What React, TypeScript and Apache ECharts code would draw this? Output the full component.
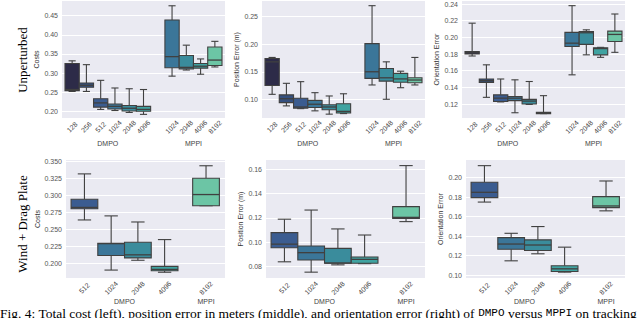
import React, { useEffect, useRef } from 'react';
import * as echarts from 'echarts';

// ---------- categories ----------
const DMPO_TOP = ['128', '256', '512', '1024', '2048', '4096'];
const MPPI_TOP = ['1024', '2048', '4096', '8192'];
const DMPO_BOT = ['512', '1024', '2048', '4096'];
const MPPI_BOT = ['8192'];
const GROUPS = ['DMPO', 'MPPI'];

// ---------- box stats: [min, Q1, median, Q3, max] ----------
// Unperturbed — cost
const costTopDMPO = [
  [0.252, 0.254, 0.257, 0.325, 0.332],
  [0.252, 0.263, 0.268, 0.274, 0.322],
  [0.205, 0.211, 0.222, 0.233, 0.281],
  [0.202, 0.206, 0.213, 0.219, 0.261],
  [0.197, 0.201, 0.208, 0.215, 0.259],
  [0.192, 0.200, 0.205, 0.213, 0.257],
];
const costTopMPPI = [
  [0.292, 0.314, 0.343, 0.439, 0.476],
  [0.308, 0.311, 0.315, 0.346, 0.373],
  [0.297, 0.313, 0.318, 0.325, 0.337],
  [0.316, 0.320, 0.334, 0.368, 0.383],
];
// Unperturbed — position error
const posTopDMPO = [
  [0.109, 0.125, 0.168, 0.174, 0.176],
  [0.088, 0.094, 0.101, 0.108, 0.129],
  [0.083, 0.084, 0.086, 0.102, 0.132],
  [0.079, 0.085, 0.091, 0.098, 0.112],
  [0.073, 0.081, 0.086, 0.090, 0.106],
  [0.074, 0.075, 0.078, 0.092, 0.110],
];
const posTopMPPI = [
  [0.126, 0.138, 0.150, 0.201, 0.270],
  [0.100, 0.133, 0.139, 0.156, 0.168],
  [0.121, 0.131, 0.137, 0.147, 0.151],
  [0.126, 0.130, 0.135, 0.139, 0.176],
];
// Unperturbed — orientation error
const oriTopDMPO = [
  [0.1776, 0.180, 0.1815, 0.183, 0.217],
  [0.128, 0.146, 0.148, 0.150, 0.167],
  [0.1225, 0.123, 0.127, 0.131, 0.150],
  [0.1095, 0.124, 0.127, 0.129, 0.149],
  [0.1195, 0.120, 0.1235, 0.1255, 0.147],
  [0.1085, 0.1085, 0.109, 0.110, 0.130],
];
const oriTopMPPI = [
  [0.155, 0.189, 0.193, 0.206, 0.238],
  [0.179, 0.1915, 0.2055, 0.207, 0.209],
  [0.176, 0.179, 0.1865, 0.1875, 0.188],
  [0.182, 0.195, 0.2035, 0.2075, 0.228],
];
// Wind + Drag Plate — cost
const costBotDMPO = [
  [0.264, 0.2805, 0.2825, 0.2945, 0.332],
  [0.190, 0.2115, 0.229, 0.2295, 0.270],
  [0.2045, 0.208, 0.2125, 0.231, 0.261],
  [0.1868, 0.189, 0.191, 0.1955, 0.235],
];
const costBotMPPI = [[0.285, 0.285, 0.3015, 0.3255, 0.344]];
// Wind + Drag Plate — position error
const posBotDMPO = [
  [0.084, 0.0955, 0.0985, 0.108, 0.119],
  [0.0755, 0.0855, 0.0915, 0.097, 0.1265],
  [0.0815, 0.0828, 0.083, 0.095, 0.111],
  [0.0825, 0.0828, 0.086, 0.088, 0.106],
];
const posBotMPPI = [[0.117, 0.1197, 0.1205, 0.1293, 0.163]];
// Wind + Drag Plate — orientation error
const oriBotDMPO = [
  [0.175, 0.1795, 0.185, 0.1953, 0.2123],
  [0.1148, 0.1267, 0.132, 0.1386, 0.143],
  [0.122, 0.1253, 0.131, 0.1363, 0.1499],
  [0.1032, 0.1038, 0.1066, 0.1097, 0.1288],
];
const oriBotMPPI = [[0.166, 0.1693, 0.171, 0.1806, 0.1966]];

// ---------- y tick labels ----------
const costTopTicks = [0.2, 0.25, 0.3, 0.35, 0.4, 0.45];
const posTopTicks = [0.1, 0.15, 0.2, 0.25];
const oriTopTicks = [0.12, 0.14, 0.16, 0.18, 0.2, 0.22, 0.24];
const costBotTicks = [0.2, 0.225, 0.25, 0.275, 0.3, 0.325, 0.35];
const posBotTicks = [0.08, 0.1, 0.12, 0.14, 0.16];
const oriBotTicks = [0.1, 0.12, 0.14, 0.16, 0.18, 0.2];

const ROW_LABELS = ['Unperturbed', 'Wind + Drag Plate'];
const Y_NAMES = ['Costs', 'Position Error (m)', 'Orientation Error'];
const CAPTION = [
  'Fig. 4: Total cost (left), position error in meters (middle), and orientation error (right) of ',
  'DMPO',
  ' versus ',
  'MPPI',
  ' on tracking',
];

// ---------- styles ----------
const PALETTE: Record<string, string> = {
  '128': '#2d2b48',
  '256': '#35507f',
  '512': '#3b5c90',
  '1024': '#3b7699',
  '2048': '#3a8c9c',
  '4096': '#40a3a1',
  '8192': '#6cc5a5',
};
const BG = '#eaeaf2';
const LINE = '#404040';
const FONT = '"Liberation Sans", Arial, sans-serif';

export default function App() {
  const ref = useRef<HTMLDivElement>(null);

  useEffect(() => {
    if (!ref.current) return;
    const chart = echarts.init(ref.current, undefined, { renderer: 'svg' });

    const TOP_GAP = 1; // one empty slot between groups
    const BOT_GAP = 0.55;

    const panels = [
      { rect: [62, 1, 163, 117], y: [0.1825, 0.4885], ticks: costTopTicks, dec: 2, name: 0, nameGap: 20, d: costTopDMPO, m: costTopMPPI, dl: DMPO_TOP, ml: MPPI_TOP, gap: TOP_GAP, x: [-0.71, 10.71], row: 0 },
      { rect: [262, 1, 163, 117], y: [0.066, 0.2785], ticks: posTopTicks, dec: 2, name: 1, nameGap: 20, d: posTopDMPO, m: posTopMPPI, dl: DMPO_TOP, ml: MPPI_TOP, gap: TOP_GAP, x: [-0.71, 10.71], row: 0 },
      { rect: [462, 1, 163, 117], y: [0.1032, 0.2436], ticks: oriTopTicks, dec: 2, name: 2, nameGap: 20, d: oriTopDMPO, m: oriTopMPPI, dl: DMPO_TOP, ml: MPPI_TOP, gap: TOP_GAP, x: [-0.71, 10.71], row: 0 },
      { rect: [66, 160, 159, 118], y: [0.1783, 0.3525], ticks: costBotTicks, dec: 3, name: 0, nameGap: 24, d: costBotDMPO, m: costBotMPPI, dl: DMPO_BOT, ml: MPPI_BOT, gap: BOT_GAP, x: [-0.69, 5.26], row: 1 },
      { rect: [266, 160, 159, 118], y: [0.0707, 0.1676], ticks: posBotTicks, dec: 2, name: 1, nameGap: 20, d: posBotDMPO, m: posBotMPPI, dl: DMPO_BOT, ml: MPPI_BOT, gap: BOT_GAP, x: [-0.69, 5.26], row: 1 },
      { rect: [466, 160, 159, 118], y: [0.0972, 0.2181], ticks: oriBotTicks, dec: 2, name: 2, nameGap: 20, d: oriBotDMPO, m: oriBotMPPI, dl: DMPO_BOT, ml: MPPI_BOT, gap: BOT_GAP, x: [-0.69, 5.26], row: 1 },
    ];

    const grid: any[] = [];
    const xAxis: any[] = [];
    const yAxis: any[] = [];
    const series: any[] = [];

    panels.forEach((p, i) => {
      const dPos = p.dl.map((_, k) => k);
      const mPos = p.ml.map((_, k) => p.dl.length + p.gap + k);
      const positions = [...dPos, ...mPos];
      const labels = [...p.dl, ...p.ml];
      const centers = [
        (dPos[0] + dPos[dPos.length - 1]) / 2,
        (mPos[0] + mPos[mPos.length - 1]) / 2,
      ];
      const bottomRow = p.row === 1;

      grid.push({
        left: p.rect[0], top: p.rect[1], width: p.rect[2], height: p.rect[3],
        show: true, backgroundColor: BG, borderWidth: 0, containLabel: false,
      });
      xAxis.push({
        type: 'value', gridIndex: i, min: p.x[0], max: p.x[1], position: 'bottom',
        axisLine: { show: false }, axisTick: { show: false }, splitLine: { show: false },
        axisLabel: {
          customValues: positions,
          rotate: 45, align: 'center', verticalAlign: 'middle',
          margin: bottomRow ? 10 : 9,
          fontSize: 7, color: '#444', fontFamily: FONT,
          formatter: (v: number) => {
            const k = positions.findIndex((q) => Math.abs(q - v) < 1e-6);
            return k >= 0 ? labels[k] : '';
          },
        },
      });
      xAxis.push({
        type: 'value', gridIndex: i, min: p.x[0], max: p.x[1], position: 'bottom',
        axisLine: { show: false }, axisTick: { show: false }, splitLine: { show: false },
        axisLabel: {
          customValues: centers,
          verticalAlign: 'middle',
          margin: bottomRow ? 23 : 25,
          fontSize: 7, color: '#444', fontFamily: FONT,
          formatter: (v: number) => (Math.abs(v - centers[0]) < 1e-6 ? GROUPS[0] : GROUPS[1]),
        },
      });
      yAxis.push({
        type: 'value', gridIndex: i, min: p.y[0], max: p.y[1],
        name: Y_NAMES[p.name], nameLocation: 'middle', nameGap: p.nameGap,
        nameTextStyle: { fontSize: 7, color: '#333', fontFamily: FONT },
        axisLine: { show: false },
        axisTick: { show: false, customValues: p.ticks },
        axisLabel: {
          customValues: p.ticks, margin: 4, fontSize: 7, color: '#555', fontFamily: FONT,
          formatter: (v: number) => v.toFixed(p.dec),
        },
        splitLine: { show: true, lineStyle: { color: '#ffffff', width: 1 } },
      });

      const stats = [...p.d, ...p.m];
      const data = stats.map((s, k) => ({
        value: [positions[k], ...s],
        itemStyle: { color: PALETTE[labels[k]] },
      }));

      series.push({
        type: 'custom',
        xAxisIndex: 2 * i,
        yAxisIndex: i,
        encode: { x: 0, y: [1, 2, 3, 4, 5] },
        clip: false,
        data,
        renderItem: (params: any, api: any) => {
          const x = api.value(0);
          const w = api.size([1, 0])[0];
          const cx = api.coord([x, api.value(1)])[0];
          const yLo = api.coord([x, api.value(1)])[1];
          const yQ1 = api.coord([x, api.value(2)])[1];
          const yMed = api.coord([x, api.value(3)])[1];
          const yQ3 = api.coord([x, api.value(4)])[1];
          const yHi = api.coord([x, api.value(5)])[1];
          const fill = api.visual('color');
          const ls = { stroke: LINE, lineWidth: 1.1 };
          const half = w / 2;
          const cap = w / 4;
          return {
            type: 'group',
            children: [
              { type: 'line', shape: { x1: cx, y1: yQ3, x2: cx, y2: yHi }, style: ls },
              { type: 'line', shape: { x1: cx, y1: yQ1, x2: cx, y2: yLo }, style: ls },
              { type: 'line', shape: { x1: cx - cap, y1: yHi, x2: cx + cap, y2: yHi }, style: ls },
              { type: 'line', shape: { x1: cx - cap, y1: yLo, x2: cx + cap, y2: yLo }, style: ls },
              {
                type: 'rect',
                shape: { x: cx - half, y: yQ3, width: w, height: Math.max(yQ1 - yQ3, 1) },
                style: { fill, stroke: LINE, lineWidth: 1.1 },
              },
              { type: 'line', shape: { x1: cx - half, y1: yMed, x2: cx + half, y2: yMed }, style: { stroke: LINE, lineWidth: 1.3 } },
            ],
          };
        },
      });
    });

    const serif = '"Liberation Serif", "Times New Roman", serif';
    const mono = '"Liberation Mono", "DejaVu Sans Mono", monospace';
    const graphic: any[] = [
      {
        type: 'text', x: 22, y: 60, rotation: Math.PI / 2,
        style: { text: ROW_LABELS[0], font: `13px ${serif}`, fill: '#000', align: 'center', verticalAlign: 'middle' },
      },
      {
        type: 'text', x: 22, y: 224, rotation: Math.PI / 2,
        style: { text: ROW_LABELS[1], font: `13px ${serif}`, fill: '#000', align: 'center', verticalAlign: 'middle' },
      },
      {
        type: 'text', x: 0, y: 306,
        style: {
          text: `{a|${CAPTION[0]}}{m|${CAPTION[1]}}{a|${CAPTION[2]}}{m|${CAPTION[3]}}{a|${CAPTION[4]}}`,
          verticalAlign: 'top',
          rich: {
            a: { fontFamily: serif, fontSize: 13.5, fill: '#000' },
            m: { fontFamily: mono, fontSize: 11, fill: '#000' },
          },
        },
      },
    ];

    chart.setOption({
      animation: false,
      backgroundColor: '#ffffff',
      grid,
      xAxis,
      yAxis,
      series,
      graphic,
    });

    return () => chart.dispose();
  }, []);

  return (
    <div
      ref={ref}
      style={{ position: 'fixed', left: 0, top: 0, width: 640, height: 318, background: '#fff' }}
    />
  );
}
